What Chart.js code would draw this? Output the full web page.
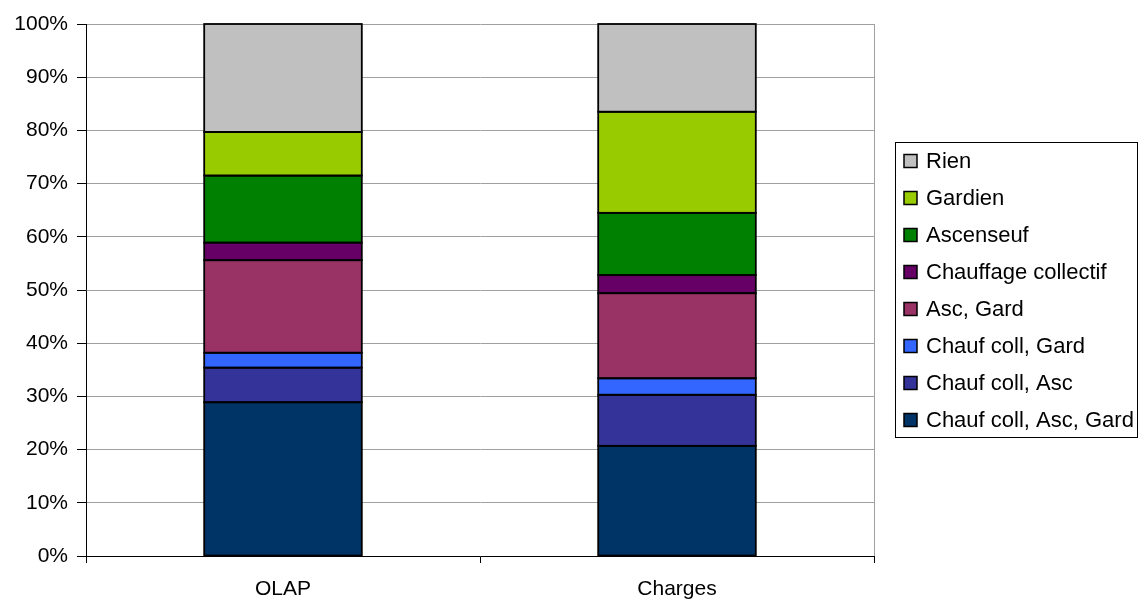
<!DOCTYPE html>
<html>
<head>
<meta charset="utf-8">
<script src="https://cdn.jsdelivr.net/npm/chart.js@4.4.1/dist/chart.umd.min.js"></script>
<style>
  html, body { margin: 0; padding: 0; background: #fff; }
  #wrap { width: 1140px; height: 601px; }
</style>
</head>
<body>
<div id="wrap"><canvas id="c" width="1140" height="601"></canvas></div>
<script>
// Categories on the x axis
const categories = ['OLAP', 'Charges'];

// Series, bottom of the stack first
const seriesNames = [
  'Chauf coll, Asc, Gard',
  'Chauf coll, Asc',
  'Chauf coll, Gard',
  'Asc, Gard',
  'Chauffage collectif',
  'Ascenseuf',
  'Gardien',
  'Rien'
];
const seriesColors = ['#003366', '#333399', '#3366FF', '#993366', '#660066', '#008000', '#99CC00', '#C0C0C0'];

// Shares (%) per series for each category
const olapShares    = [28.9, 6.5, 2.8, 17.4, 3.3, 12.6, 8.2, 20.3];
const chargesShares = [20.7, 9.6, 3.1, 16.0, 3.4, 11.7, 19.0, 16.5];

// Y axis ticks
const yTickStep = 10;
const yMax = 100;

const FONT = "'Liberation Sans', Arial, Helvetica, sans-serif";
Chart.defaults.font.family = FONT;
Chart.defaults.color = '#000';

const datasets = seriesNames.map((name, i) => ({
  label: name,
  data: [olapShares[i], chargesShares[i]],
  backgroundColor: seriesColors[i],
  borderWidth: 0,
  inflateAmount: 0,
  barPercentage: 0.4,
  categoryPercentage: 1.0
}));

// Black outline around every bar segment, shared between neighbours
const segmentOutline = {
  id: 'segmentOutline',
  afterDatasetsDraw(chart) {
    const ctx = chart.ctx;
    ctx.save();
    ctx.strokeStyle = '#000';
    ctx.lineWidth = 1.8;
    chart.data.datasets.forEach((ds, di) => {
      chart.getDatasetMeta(di).data.forEach(bar => {
        const p = bar.getProps(['x', 'y', 'base', 'width'], true);
        const l = p.x - p.width / 2;
        const top = Math.min(p.y, p.base);
        const h = Math.abs(p.base - p.y);
        ctx.strokeRect(l, top, p.width, h);
      });
    });
    ctx.restore();
  }
};

// Right-hand border of the plot area
const plotFrame = {
  id: 'plotFrame',
  afterDatasetsDraw(chart) {
    const { ctx, chartArea: a } = chart;
    ctx.save();
    ctx.strokeStyle = '#a0a0a0';
    ctx.lineWidth = 1;
    ctx.beginPath();
    ctx.moveTo(Math.round(a.right) + 0.5, a.top);
    ctx.lineTo(Math.round(a.right) + 0.5, a.bottom);
    ctx.stroke();
    ctx.restore();
  }
};

// Framed legend on the right, top series first
const boxedLegend = {
  id: 'boxedLegend',
  afterDraw(chart) {
    const ctx = chart.ctx;
    const left = 895, top = 142, width = 242, height = 295;
    const rowTop = 161, rowStep = 37, box = 13;
    ctx.save();
    ctx.strokeStyle = '#000';
    ctx.lineWidth = 1;
    ctx.strokeRect(left + 0.5, top + 0.5, width, height);
    ctx.font = '22px ' + FONT;
    ctx.textBaseline = 'middle';
    ctx.textAlign = 'left';
    const order = chart.data.datasets.map((d, i) => i).reverse();
    order.forEach((di, k) => {
      const ds = chart.data.datasets[di];
      const y = rowTop + k * rowStep;
      ctx.fillStyle = ds.backgroundColor;
      ctx.fillRect(904, y - box / 2, box, box);
      ctx.lineWidth = 1.5;
      ctx.strokeStyle = '#000';
      ctx.strokeRect(904, y - box / 2, box, box);
      ctx.fillStyle = '#000';
      ctx.fillText(ds.label, 926, y + 1);
    });
    ctx.restore();
  }
};

new Chart(document.getElementById('c'), {
  type: 'bar',
  data: { labels: categories, datasets },
  options: {
    responsive: false,
    animation: false,
    layout: { padding: { top: 24, right: 266, bottom: 0, left: 0 } },
    plugins: {
      legend: { display: false },
      tooltip: { enabled: false }
    },
    scales: {
      x: {
        stacked: true,
        grid: {
          offset: true,
          drawOnChartArea: false,
          drawTicks: true,
          tickLength: 7,
          color: '#000',
          tickColor: '#000'
        },
        border: { color: '#000', width: 1 },
        ticks: { color: '#000', font: { size: 21 }, padding: 14 },
        afterFit(scale) { scale.height = 45; }
      },
      y: {
        stacked: true,
        min: 0,
        max: yMax,
        ticks: {
          stepSize: yTickStep,
          color: '#000',
          font: { size: 21 },
          padding: 9,
          callback: v => v + '%'
        },
        grid: { color: '#a0a0a0', tickColor: '#000', tickLength: 9 },
        border: { color: '#000', width: 1 },
        afterFit(scale) { scale.width = 86; }
      }
    }
  },
  plugins: [segmentOutline, plotFrame, boxedLegend]
});
</script>
</body>
</html>
